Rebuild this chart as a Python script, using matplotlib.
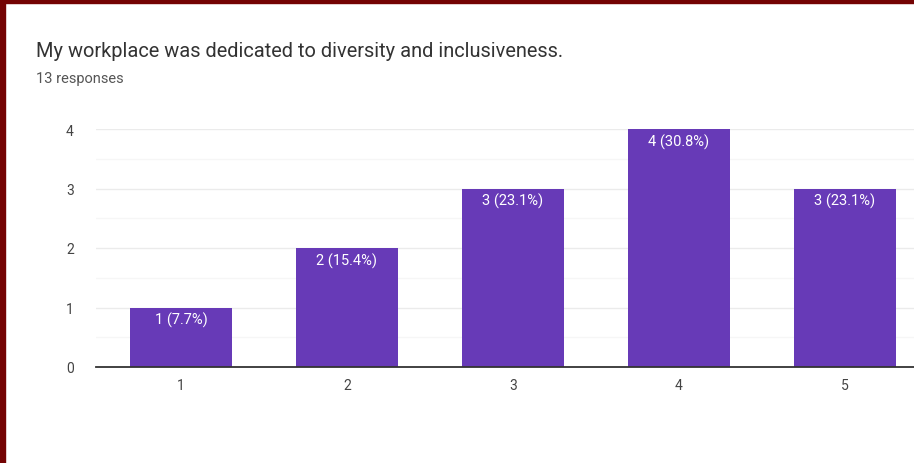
import numpy as np
import matplotlib.pyplot as plt
from matplotlib.patches import Rectangle

categories = [1, 2, 3, 4, 5]
counts = [1, 2, 3, 4, 3]
total = 13
title = 'My workplace was dedicated to diversity and inclusiveness.'
subtitle = '13 responses'

plt.rcParams['font.family'] = ['Roboto', 'DejaVu Sans']

fig = plt.figure(figsize=(9.14, 4.64), dpi=100)
fig.patch.set_facecolor('white')

# dark red frame on the left and top
fig.patches.append(Rectangle((0, 0), 5 / 914, 1, transform=fig.transFigure,
                             color='#740303', zorder=10))
fig.patches.append(Rectangle((0, 1 - 4 / 464), 1, 4 / 464, transform=fig.transFigure,
                             color='#740303', zorder=10))

ax = fig.add_axes([96 / 914, 96 / 464, 1 - 96 / 914, 238 / 464])

bars = ax.bar(categories, counts, width=0.615, color='#673ab7', zorder=3)
for b, c in zip(bars, counts):
    ax.text(b.get_x() + b.get_width() / 2, c - 0.2,
            f'{c} ({c / total * 100:.1f}%)', ha='center', va='center',
            color='white', fontsize=10.5, zorder=4)

ax.set_xlim(0.488, 5.416)
ax.set_ylim(0, 4)
ax.set_xticks(categories)
ax.set_yticks(range(0, 5))
ax.set_yticks(np.arange(0.5, 4, 1), minor=True)
ax.grid(axis='y', which='major', color='#ebebeb', linewidth=1, zorder=0)
ax.grid(axis='y', which='minor', color='#f6f6f6', linewidth=1, zorder=0)
ax.tick_params(axis='both', which='both', length=0, colors='#444444', labelsize=10)
ax.tick_params(axis='y', pad=16)
ax.tick_params(axis='x', pad=8)
for s in ['top', 'right', 'left']:
    ax.spines[s].set_visible(False)
ax.spines['bottom'].set_color('#333333')
ax.spines['bottom'].set_linewidth(1.3)
ax.spines['bottom'].set_zorder(5)

fig.text(36 / 914, 1 - 52 / 464, title, fontsize=14.4, color='#333333',
         ha='left', va='center')
fig.text(36 / 914, 1 - 79 / 464, subtitle, fontsize=10.5, color='#555555',
         ha='left', va='center')

fig.savefig('out.png', dpi=100)
